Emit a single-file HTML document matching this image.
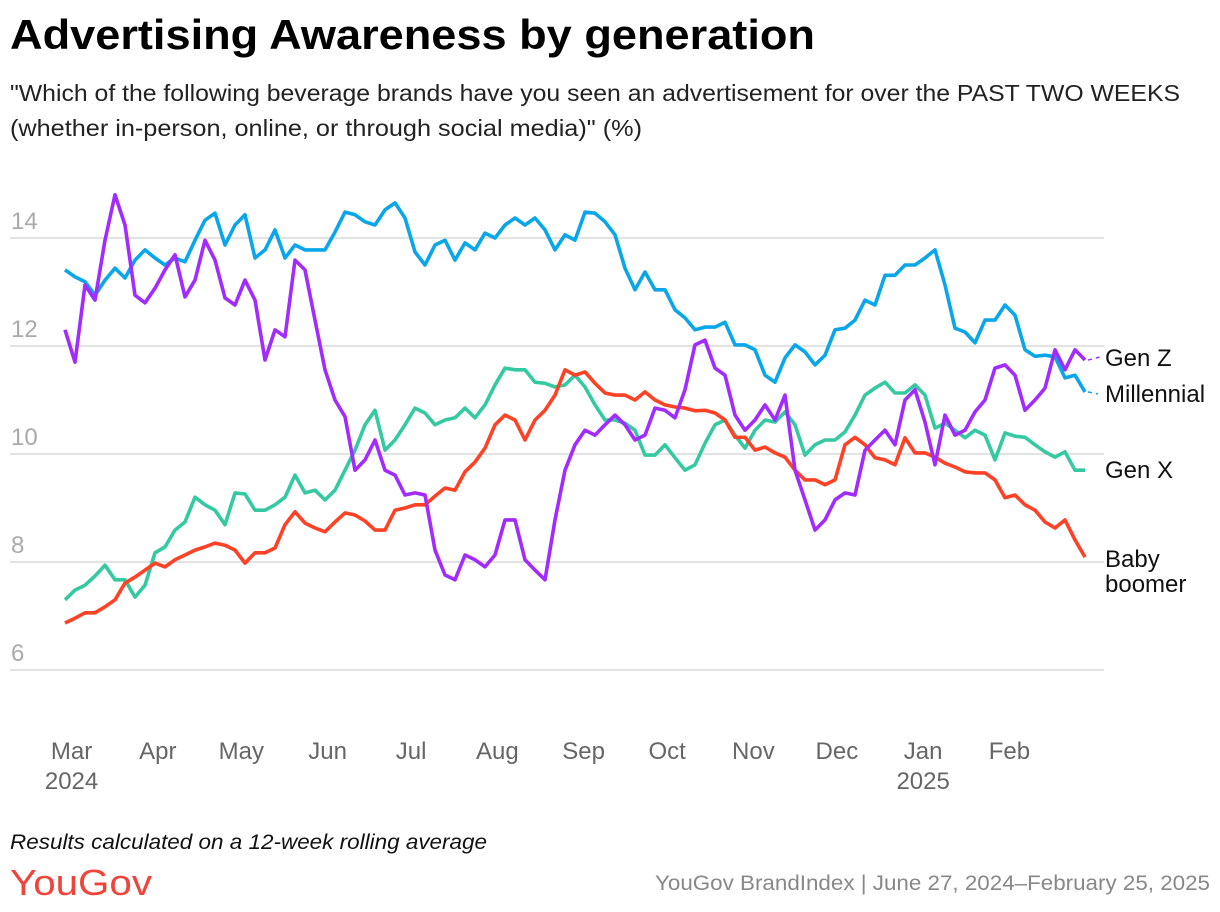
<!DOCTYPE html>
<html><head><meta charset="utf-8">
<style>
html,body{margin:0;padding:0;background:#fff;}
body{width:1220px;height:912px;overflow:hidden;position:relative;font-family:"Liberation Sans",sans-serif;}
svg{position:absolute;left:0;top:0;}
</style></head>
<body>
<svg id="chart" width="1220" height="912">
  <text x="10" y="49" font-size="42" font-weight="bold" fill="#000" textLength="805" lengthAdjust="spacingAndGlyphs">Advertising Awareness by generation</text>
  <text x="10" y="101" font-size="23" fill="#222" textLength="1170" lengthAdjust="spacingAndGlyphs">"Which of the following beverage brands have you seen an advertisement for over the PAST TWO WEEKS</text>
  <text x="10" y="136" font-size="23" fill="#222" textLength="632" lengthAdjust="spacingAndGlyphs">(whether in-person, online, or through social media)" (%)</text>
  <g id="grid"></g>
  <g id="xaxis"></g>
  <g id="series"></g>
  <g id="legend"></g>
  <text x="10" y="849" font-size="21" font-style="italic" fill="#111" textLength="477" lengthAdjust="spacingAndGlyphs">Results calculated on a 12-week rolling average</text>
  <text x="10" y="895" font-size="36" fill="#f0443a" textLength="142" lengthAdjust="spacingAndGlyphs">YouGov</text>
  <text x="1210" y="890" font-size="21" fill="#888" text-anchor="end" textLength="555" lengthAdjust="spacingAndGlyphs">YouGov BrandIndex | June 27, 2024–February 25, 2025</text>
</svg>
<script>
const yTicks = [6, 8, 10, 12, 14];
const monthLabels = ["Mar","Apr","May","Jun","Jul","Aug","Sep","Oct","Nov","Dec","Jan","Feb"];
const monthDays = [2, 33, 63, 94, 124, 155, 186, 216, 247, 277, 308, 339];
const yearLabels = ["2024","2025"];
const yearDays = [2, 308];
const seriesNames = ["Gen Z","Millennial","Gen X","Baby boomer"];
const genZ = [12.30,11.70,13.13,12.85,13.96,14.8,14.24,12.94,12.80,13.07,13.41,13.69,12.91,13.22,13.96,13.59,12.89,12.76,13.22,12.85,11.74,12.30,12.17,13.59,13.41,12.48,11.56,11.0,10.69,9.70,9.89,10.26,9.70,9.61,9.24,9.28,9.24,8.22,7.76,7.67,8.13,8.04,7.91,8.13,8.78,8.78,8.04,7.85,7.67,8.78,9.70,10.17,10.44,10.35,10.54,10.72,10.54,10.26,10.35,10.85,10.81,10.67,11.19,12.02,12.11,11.59,11.46,10.72,10.44,10.63,10.91,10.63,11.09,9.70,9.15,8.59,8.78,9.15,9.28,9.24,10.07,10.26,10.44,10.17,11.0,11.19,10.59,9.80,10.72,10.35,10.44,10.78,11.0,11.59,11.65,11.46,10.81,11.0,11.22,11.93,11.56,11.93,11.74];
const millennial = [13.41,13.28,13.19,12.94,13.22,13.44,13.26,13.59,13.78,13.63,13.50,13.63,13.56,13.96,14.33,14.46,13.87,14.24,14.43,13.63,13.78,14.15,13.63,13.87,13.78,13.78,13.78,14.11,14.48,14.43,14.30,14.24,14.52,14.65,14.37,13.74,13.50,13.87,13.96,13.59,13.91,13.78,14.09,14.00,14.24,14.37,14.24,14.37,14.15,13.78,14.06,13.96,14.48,14.46,14.30,14.06,13.44,13.04,13.37,13.04,13.04,12.67,12.52,12.30,12.35,12.35,12.44,12.02,12.02,11.93,11.46,11.33,11.78,12.02,11.89,11.65,11.83,12.30,12.33,12.48,12.85,12.76,13.31,13.31,13.50,13.50,13.63,13.78,13.13,12.33,12.26,12.06,12.48,12.48,12.76,12.57,11.93,11.81,11.83,11.80,11.41,11.46,11.15];
const genX = [7.30,7.48,7.57,7.74,7.94,7.67,7.67,7.35,7.57,8.17,8.28,8.59,8.74,9.20,9.06,8.96,8.69,9.28,9.26,8.96,8.96,9.06,9.20,9.61,9.28,9.33,9.15,9.33,9.70,10.07,10.54,10.81,10.07,10.26,10.54,10.85,10.76,10.54,10.63,10.67,10.85,10.67,10.91,11.28,11.59,11.56,11.56,11.33,11.31,11.24,11.28,11.46,11.24,10.91,10.63,10.63,10.57,10.44,9.98,9.98,10.17,9.93,9.70,9.80,10.20,10.54,10.63,10.35,10.11,10.44,10.63,10.59,10.78,10.54,9.98,10.17,10.26,10.26,10.41,10.72,11.09,11.22,11.33,11.13,11.13,11.28,11.09,10.48,10.57,10.44,10.30,10.44,10.35,9.89,10.39,10.33,10.31,10.17,10.04,9.94,10.04,9.70,9.70];
const boomer = [6.87,6.96,7.06,7.06,7.17,7.30,7.61,7.72,7.85,7.98,7.91,8.04,8.13,8.22,8.28,8.35,8.31,8.22,7.98,8.17,8.17,8.26,8.69,8.93,8.72,8.63,8.56,8.74,8.91,8.87,8.76,8.59,8.59,8.96,9.0,9.06,9.06,9.22,9.37,9.33,9.67,9.85,10.11,10.54,10.72,10.63,10.26,10.63,10.81,11.09,11.56,11.46,11.52,11.31,11.13,11.09,11.09,11.0,11.15,11.0,10.91,10.87,10.85,10.80,10.81,10.76,10.63,10.31,10.31,10.07,10.13,10.02,9.94,9.70,9.52,9.52,9.43,9.52,10.17,10.31,10.17,9.93,9.89,9.80,10.30,10.02,10.02,9.94,9.83,9.76,9.67,9.65,9.65,9.52,9.19,9.24,9.06,8.96,8.74,8.63,8.78,8.41,8.09];

const NS = "http://www.w3.org/2000/svg";
const X0 = 65, PXDAY = 2.783, STEP_DAYS = 10 / 2.783;
function xDay(d){ return X0 + d * PXDAY; }
function xIdx(i){ return xDay(i * STEP_DAYS); }
function yVal(v){ return 670 - (v - 6) * 54; }
function mk(tag, attrs, parent){ const e = document.createElementNS(NS, tag); for (const k in attrs) e.setAttribute(k, attrs[k]); parent.appendChild(e); return e; }

const grid = document.getElementById('grid');
yTicks.forEach(t => {
  const l = mk('line', {x1: 10, x2: 1104, y1: yVal(t), y2: yVal(t), stroke: '#e3e3e3', 'stroke-width': 2}, grid);
  
  
  const tx = mk('text', {x: 11, y: yVal(t) - 9, 'font-size': 24, fill: '#aaa'}, grid);
  tx.textContent = t;
  
  
});

const xa = document.getElementById('xaxis');
monthLabels.forEach((m, i) => {
  const t = mk('text', {x: xDay(monthDays[i]) + 1, y: 759, 'font-size': 24, fill: '#666', 'text-anchor': 'middle'}, xa);
  t.textContent = m;
  
  
});
yearLabels.forEach((y, i) => {
  const t = mk('text', {x: xDay(yearDays[i]) + 1, y: 789, 'font-size': 24, fill: '#666', 'text-anchor': 'middle'}, xa);
  t.textContent = y;
  
  
});

const sg = document.getElementById('series');
const allSeries = [genX, boomer, millennial, genZ];
const colors = ['#35c9a2', '#ff4126', '#0aa6ea', '#a22cff'];
const names = ['gen-x-line', 'baby-boomer-line', 'millennial-line', 'gen-z-line'];
allSeries.forEach((s, k) => {
  const d = s.map((v, i) => (i ? 'L' : 'M') + xIdx(i).toFixed(1) + ' ' + yVal(v).toFixed(1)).join(' ');
  const p = mk('path', {d: d, fill: 'none', stroke: colors[k], 'stroke-width': 3.6, 'stroke-linejoin': 'round'}, sg);
  
  
});

const lg = document.getElementById('legend');
const lastX = xIdx(genZ.length - 1);
const c1 = mk('line', {x1: lastX + 3, x2: 1100, y1: yVal(genZ[genZ.length-1]), y2: 357, stroke: '#a22cff', 'stroke-width': 1.5, 'stroke-dasharray': '4 4'}, lg);


const c2 = mk('line', {x1: lastX + 3, x2: 1098, y1: yVal(millennial[millennial.length-1]), y2: 394, stroke: '#0aa6ea', 'stroke-width': 1.5, 'stroke-dasharray': '4 4'}, lg);


const labels = [["Gen Z", 366, 'legend-gen-z'], ["Millennial", 402, 'legend-millennial'], ["Gen X", 478, 'legend-gen-x'], ["Baby", 567, 'legend-baby-boomer'], ["boomer", 592, 'legend-baby-boomer-2']];
labels.forEach(l => {
  const t = mk('text', {x: 1105, y: l[1], 'font-size': 24, fill: '#111'}, lg);
  t.textContent = l[0];
  
  
});
</script>
</body></html>
